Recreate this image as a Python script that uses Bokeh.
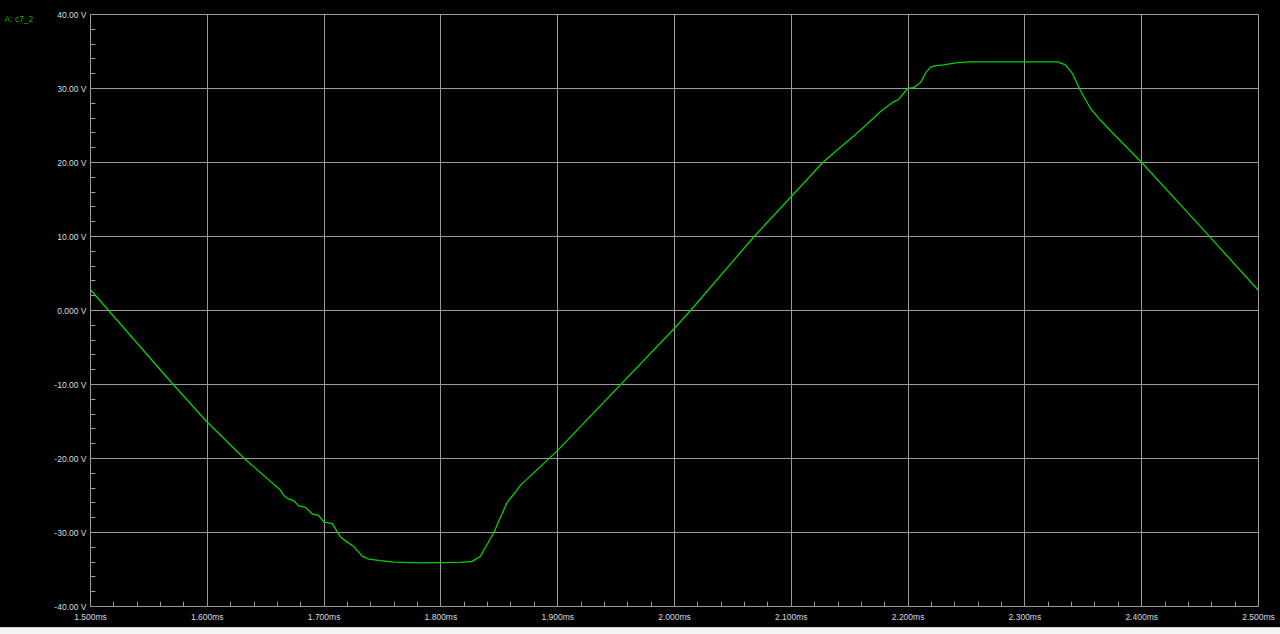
from bokeh.plotting import figure
from bokeh.models import Range1d, FixedTicker, GlobalInlineStyleSheet
from bokeh.core.properties import value
from bokeh.embed import file_html
from bokeh.resources import INLINE

# ---- data ----
trace_name = "A: c7_2"
t_ms = [1.5, 1.5708, 1.6, 1.6317, 1.6627, 1.6655, 1.6698, 1.674, 1.6783, 1.684,
        1.6898, 1.6954, 1.6998, 1.707, 1.714, 1.7198, 1.7254, 1.7326, 1.7383, 1.7483,
        1.7597, 1.7825, 1.8168, 1.8268, 1.8339, 1.8382, 1.8454, 1.8497, 1.8568, 1.8625,
        1.8682, 1.9, 2.0, 2.0137, 2.0682, 2.1, 2.1269, 2.14, 2.155, 2.165,
        2.1764, 2.1875, 2.1918, 2.1995, 2.2046, 2.2106, 2.215, 2.2192, 2.2235, 2.2303,
        2.2423, 2.2534, 2.3279, 2.3348, 2.3408, 2.3476, 2.3562, 2.3647, 2.3733, 2.4,
        2.45, 2.5]
volts = [2.8, -10.0, -15.1, -20.0, -24.3, -25.0, -25.5, -25.7, -26.4, -26.6,
         -27.5, -27.7, -28.6, -28.8, -30.6, -31.3, -31.9, -33.2, -33.6, -33.8,
         -34.0, -34.1, -34.05, -33.9, -33.2, -32.0, -30.0, -28.4, -25.9, -24.8,
         -23.6, -18.9, -2.4, 0.0, 10.0, 15.4, 20.0, 21.8, 23.8, 25.2,
         26.9, 28.2, 28.5, 30.0, 30.1, 30.8, 32.1, 32.9, 33.1, 33.2,
         33.5, 33.6, 33.6, 33.2, 32.0, 29.7, 27.3, 25.7, 24.3, 20.0,
         11.4, 2.7]

x_ticks = [1.5, 1.6, 1.7, 1.8, 1.9, 2.0, 2.1, 2.2, 2.3, 2.4, 2.5]
x_labels = ["1.500ms", "1.600ms", "1.700ms", "1.800ms", "1.900ms", "2.000ms",
            "2.100ms", "2.200ms", "2.300ms", "2.400ms", "2.500ms"]
x_minor = [1.52, 1.54, 1.56, 1.58, 1.62, 1.64, 1.66, 1.68, 1.72, 1.74, 1.76, 1.78,
           1.82, 1.84, 1.86, 1.88, 1.92, 1.94, 1.96, 1.98, 2.02, 2.04, 2.06, 2.08,
           2.12, 2.14, 2.16, 2.18, 2.22, 2.24, 2.26, 2.28, 2.32, 2.34, 2.36, 2.38,
           2.42, 2.44, 2.46, 2.48]
y_ticks = [-40, -30, -20, -10, 0, 10, 20, 30, 40]
y_labels = ["-40.00 V", "-30.00 V", "-20.00 V", "-10.00 V", "0.000 V",
            "10.00 V", "20.00 V", "30.00 V", "40.00 V"]
y_minor = [-38, -36, -34, -32, -28, -26, -24, -22, -18, -16, -14, -12, -8, -6, -4, -2,
           2, 4, 6, 8, 12, 14, 16, 18, 22, 24, 26, 28, 32, 34, 36, 38]

GRID = "#9a9a9a"
LABEL_COLOR = "#d6dbe0"
FONT = "Liberation Sans"

p = figure(width=1280, height=634, output_backend="svg", toolbar_location=None,
           x_range=Range1d(1.5, 2.5), y_range=Range1d(-40, 40),
           min_border_left=90, min_border_right=22, min_border_top=14, min_border_bottom=28,
           background_fill_color="black", border_fill_color="black",
           outline_line_color=GRID, outline_line_width=1)

p.stylesheets = [GlobalInlineStyleSheet(css=(
    "html,body{background:#000;}"
    "body::after{content:'';position:fixed;left:0;right:0;bottom:0;height:6px;"
    "background:#f4f4f4;border-top:1px solid #d0d0d0;z-index:10;}"))]

for ax, ticks, minor, labels in ((p.xaxis[0], x_ticks, x_minor, x_labels),
                                 (p.yaxis[0], y_ticks, y_minor, y_labels)):
    ax.ticker = FixedTicker(ticks=ticks, minor_ticks=minor)
    ax.major_label_overrides = {t: l for t, l in zip(ticks, labels)}
    ax.axis_line_color = GRID
    ax.major_tick_line_color = None
    ax.major_tick_in = 0
    ax.major_tick_out = 0
    ax.minor_tick_line_color = GRID
    ax.minor_tick_in = 5
    ax.minor_tick_out = 0
    ax.major_label_text_color = LABEL_COLOR
    ax.major_label_text_font = FONT
    ax.major_label_text_font_size = "8.5px"

p.xaxis.major_label_standoff = 5
p.yaxis.major_label_standoff = 4

p.xgrid.grid_line_color = GRID
p.ygrid.grid_line_color = GRID
p.xgrid.grid_line_width = 1
p.ygrid.grid_line_width = 1

p.line(t_ms, volts, line_color="#00d400", line_width=1.3)

# trace name, drawn at overlay level so it is not clipped to the frame
p.text(x=[x_ticks[0]], y=[y_ticks[-1]], text=[trace_name], x_offset=-86, y_offset=4,
       text_color="#00b800", text_font=value(FONT), text_font_size="8.5px",
       text_baseline="middle", text_align="left", level="overlay")

open("out.html", "w").write(file_html(p, INLINE))
